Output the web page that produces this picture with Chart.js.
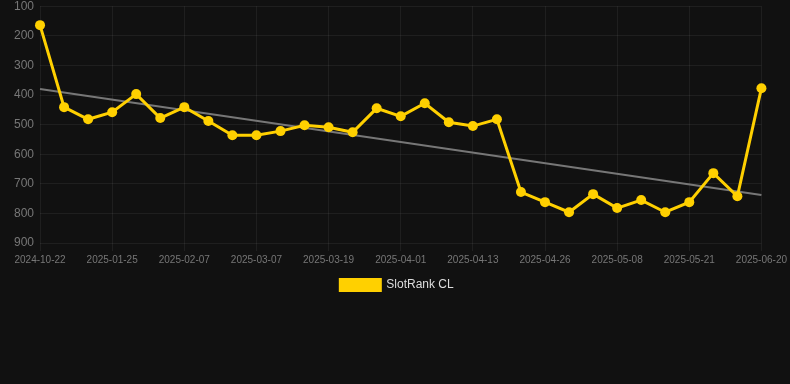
<!DOCTYPE html>
<html lang="en">
<head>
<meta charset="UTF-8" />
<title>SlotRank CL</title>
<style>
    html, body { margin: 0; padding: 0; background: #111111; overflow: hidden; }
    .chart-box { position: relative; width: 790px; height: 308px; margin-top: -7px; }
</style>
</head>
<body>
<div class="chart-box">
    <canvas id="rankChart"></canvas>
</div>

<script src="https://cdn.jsdelivr.net/npm/chart.js"></script>
<script>
    const fechas = [
        '2024-10-22', '2024-11-20', '2024-12-28', '2025-01-25', '2025-01-29', '2025-02-03',
        '2025-02-07', '2025-02-17', '2025-02-26', '2025-03-07', '2025-03-11', '2025-03-15',
        '2025-03-19', '2025-03-23', '2025-03-27', '2025-04-01', '2025-04-05', '2025-04-09',
        '2025-04-13', '2025-04-17', '2025-04-21', '2025-04-26', '2025-04-30', '2025-05-04',
        '2025-05-08', '2025-05-12', '2025-05-17', '2025-05-21', '2025-05-31', '2025-06-10',
        '2025-06-20'
    ];

    const rango = [
        164, 441, 482, 458, 397, 478, 441, 488, 536, 536, 522,
        502, 509, 526, 445, 472, 428, 492, 505, 482, 728, 762,
        796, 735, 782, 755, 796, 762, 664, 742, 377
    ];

    // tendencia: solo inicio y fin
    const tendencia = [380, 738];

    const ticksY = [100, 200, 300, 400, 500, 600, 700, 800, 900];

    const ctx = document.getElementById('rankChart').getContext('2d');
    new Chart(ctx, {
        type: 'line',
        data: {
            labels: fechas,
            datasets: [
                {
                    label: 'SlotRank CL',
                    data: rango,
                    borderColor: '#ffd000',
                    backgroundColor: '#ffd000',
                    borderWidth: 3,
                    pointRadius: 5,
                    pointHoverRadius: 6,
                    pointBackgroundColor: '#ffd000',
                    pointBorderWidth: 0,
                    tension: 0,
                    order: 1
                },
                {
                    label: 'trend',
                    data: [
                        { x: fechas[0], y: tendencia[0] },
                        { x: fechas[fechas.length - 1], y: tendencia[1] }
                    ],
                    borderColor: '#777777',
                    borderWidth: 2,
                    pointRadius: 0,
                    order: 2
                }
            ]
        },
        options: {
            responsive: true,
            maintainAspectRatio: false,
            animation: false,
            layout: { padding: { top: 0, left: 8, right: 4 } },
            scales: {
                y: {
                    reverse: true,
                    min: 100,
                    max: 900,
                    afterBuildTicks: (axis) => { axis.ticks = ticksY.map(v => ({ value: v })); },
                    ticks: { color: '#777777', font: { family: 'Arial', size: 12 }, padding: 6 },
                    grid: { color: 'rgba(255,255,255,0.06)', drawTicks: false },
                    border: { display: false }
                },
                x: {
                    ticks: {
                        autoSkip: false,
                        maxRotation: 0,
                        color: '#777777',
                        font: { family: 'Arial', size: 10 },
                        callback: function (val, i) { return i % 3 === 0 ? fechas[i] : null; }
                    },
                    grid: { color: 'rgba(255,255,255,0.06)' },
                    border: { display: false }
                }
            },
            plugins: {
                legend: {
                    position: 'bottom',
                    labels: {
                        color: '#dddddd',
                        font: { family: 'Arial', size: 12 },
                        boxWidth: 40,
                        boxHeight: 11,
                        filter: (item) => item.text !== 'trend'
                    }
                },
                tooltip: { enabled: false }
            }
        }
    });
</script>
</body>
</html>
